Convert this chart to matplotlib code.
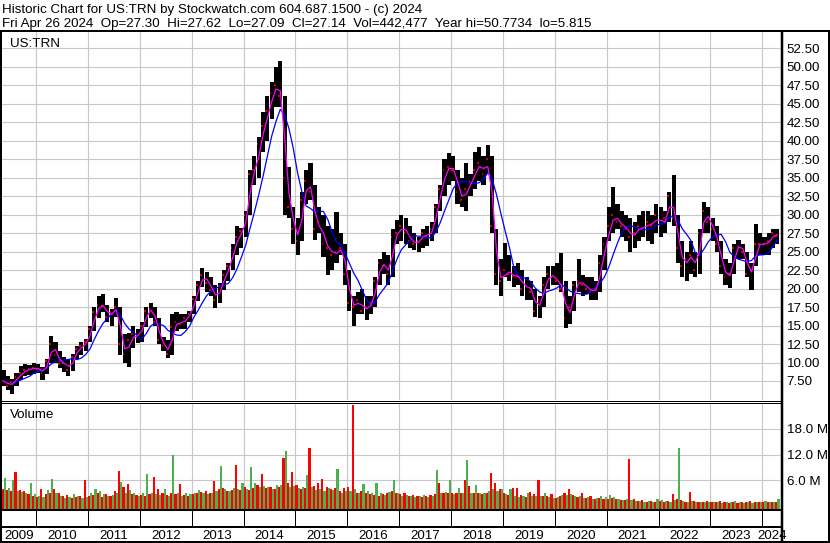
import numpy as np
import pandas as pd
import matplotlib
matplotlib.use("Agg")
import matplotlib.pyplot as plt

plt.rcParams["font.family"] = ["Liberation Sans", "DejaVu Sans"]

W, H = 830, 543          # output size in pixels
FS = 9.6                 # ~13 px Arial-like text

# monthly bars, May 2009 .. Apr 2024
months = pd.period_range("2009-05", "2024-04", freq="M")

high = [
    9.0, 8.2, 7.8, 8.6, 9.5, 9.8, 9.6, 9.9,                                  # 2009
    9.8, 9.4, 10.5, 13.6, 12.8, 11.5, 10.8, 10.5, 11.2, 12.2, 12.8, 13.2,      # 2010
    15.0, 17.5, 19.0, 19.2, 17.8, 17.2, 18.7, 17.5, 13.8, 14.0, 15.0, 14.6,    # 2011
    15.5, 17.5, 18.0, 17.5, 16.0, 13.5, 13.0, 16.5, 16.8, 16.5, 16.5, 17.0,    # 2012
    19.0, 21.0, 22.8, 22.2, 21.5, 20.5, 20.8, 22.5, 23.5, 26.0, 28.4, 28.2,    # 2013
    30.5, 36.0, 38.0, 40.5, 43.9, 46.0, 48.0, 50.0, 50.8, 46.0, 36.5, 31.0,    # 2014
    29.5, 33.0, 36.0, 37.0, 34.0, 31.0, 30.0, 28.5, 28.0, 30.4, 27.5, 26.0,    # 2015
    22.5, 19.0, 19.5, 20.0, 19.0, 19.0, 21.5, 24.0, 25.0, 24.5, 28.0, 29.3,    # 2016
    29.9, 29.5, 28.5, 27.5, 27.0, 28.0, 28.5, 29.0, 31.5, 34.0, 37.5, 38.3,    # 2017
    38.0, 36.0, 35.0, 37.0, 35.5, 38.5, 39.2, 38.0, 39.4, 38.0, 28.0, 24.0,    # 2018
    26.2, 24.5, 23.0, 23.5, 22.5, 21.5, 21.0, 20.0, 19.0, 21.5, 23.0, 23.0,    # 2019
    23.5, 24.8, 21.0, 19.0, 21.0, 24.0, 21.8, 21.5, 21.5, 21.0, 24.5, 27.0,    # 2020
    31.0, 33.8, 31.5, 30.5, 30.0, 29.5, 29.0, 30.0, 30.5, 30.5, 30.0, 31.5,    # 2021
    31.0, 30.5, 33.0, 35.4, 30.0, 26.5, 25.0, 26.5, 25.0, 28.0, 31.7, 31.0,    # 2022
    29.5, 28.5, 26.5, 24.0, 23.5, 26.0, 26.6, 26.0, 25.0, 23.5, 28.8, 27.5,    # 2023
    27.0, 27.5, 28.0, 28.0,                                                  # 2024
]
low = [
    6.8, 6.3, 5.8, 6.8, 7.6, 8.2, 8.3, 8.5,
    8.6, 7.7, 8.5, 10.0, 10.0, 9.2, 8.7, 8.2, 8.9, 10.5, 11.0, 11.5,
    12.8, 14.2, 16.0, 16.8, 15.5, 15.0, 16.2, 11.0, 10.0, 9.4, 12.0, 12.6,
    12.8, 14.8, 16.0, 15.0, 12.5, 11.5, 10.6, 11.0, 14.2, 14.5, 14.5, 15.5,
    16.6, 18.3, 20.2, 19.5, 19.0, 17.4, 18.0, 19.8, 21.0, 22.5, 24.5, 25.5,
    27.0, 30.0, 34.0, 35.0, 38.5, 40.0, 43.0, 44.5, 44.5, 30.0, 29.5, 26.0,
    24.5, 26.5, 31.5, 32.0, 26.6, 27.5, 24.3, 21.9, 22.5, 23.5, 24.5, 20.5,
    17.0, 14.9, 16.5, 16.5, 15.8, 16.5, 17.5, 20.5, 22.0, 20.5, 21.5, 26.0,
    26.5, 26.0, 25.5, 25.2, 25.0, 25.5, 25.8, 26.5, 27.5, 30.5, 32.5, 34.0,
    34.5, 31.5, 31.0, 30.5, 32.5, 33.5, 34.5, 34.0, 35.5, 27.5, 20.5, 19.0,
    21.5, 21.0, 20.2, 20.5, 19.0, 18.5, 18.5, 16.2, 16.0, 17.5, 20.0, 20.5,
    20.5, 19.5, 14.7, 15.2, 17.0, 19.5, 19.0, 19.2, 18.5, 18.5, 19.5, 22.5,
    26.5, 27.5, 28.0, 27.0, 26.5, 25.0, 25.5, 26.5, 27.0, 26.5, 26.0, 27.5,
    27.0, 27.5, 29.0, 28.5, 23.5, 21.5, 21.0, 22.0, 21.5, 22.0, 27.5, 27.5,
    26.5, 25.0, 22.0, 20.5, 20.1, 22.0, 24.0, 24.0, 21.5, 19.8, 23.0, 24.5,
    24.5, 24.5, 25.5, 26.0,
]
close = [
    7.5, 6.8, 7.3, 8.0, 8.6, 9.0, 9.1, 9.3,
    9.1, 8.6, 10.2, 12.5, 11.0, 9.8, 10.0, 9.0, 10.8, 11.8, 12.2, 12.8,
    14.5, 16.8, 17.8, 17.6, 16.2, 16.8, 17.5, 12.5, 11.2, 13.0, 13.8, 13.5,
    15.0, 17.0, 17.2, 15.5, 13.0, 12.3, 11.2, 14.8, 15.5, 15.2, 16.0, 16.6,
    18.6, 20.5, 21.8, 20.8, 19.8, 18.5, 20.3, 21.8, 23.0, 25.5, 27.0, 27.8,
    30.0, 35.5, 36.0, 39.5, 42.0, 44.0, 46.5, 47.5, 46.0, 35.0, 31.0, 28.0,
    26.5, 32.0, 34.5, 33.0, 28.0, 29.0, 26.0, 25.5, 24.5, 25.0, 25.5, 22.0,
    18.0, 17.5, 18.5, 17.0, 17.5, 18.0, 21.0, 23.5, 23.0, 22.0, 27.0, 27.5,
    28.5, 27.5, 26.5, 26.0, 26.5, 27.5, 27.0, 28.0, 31.0, 33.5, 36.0, 36.5,
    36.0, 33.0, 32.0, 33.5, 34.5, 36.0, 37.0, 35.5, 37.5, 28.5, 22.0, 21.0,
    22.5, 22.0, 21.5, 21.8, 20.0, 20.5, 19.5, 17.0, 18.5, 20.5, 22.0, 21.5,
    21.0, 20.0, 16.0, 17.5, 20.5, 21.0, 20.5, 20.0, 19.5, 20.0, 23.5, 26.0,
    28.5, 30.0, 29.0, 28.5, 28.0, 27.0, 27.5, 28.5, 28.0, 29.0, 28.5, 30.0,
    28.5, 29.5, 32.5, 29.5, 25.5, 23.0, 24.0, 24.5, 22.5, 27.5, 30.5, 29.0,
    28.0, 26.0, 23.0, 21.5, 22.0, 25.5, 25.8, 25.0, 22.0, 22.5, 26.0, 26.0,
    26.0, 26.5, 27.5, 27.14,
]

# biggest down-day / up-day volume in each month, millions of shares
vol_down = [
    4.0, 3.8, 3.5, 7.9, 3.8, 3.5, 2.8, 2.5,
    2.2, 4.0, 2.8, 3.2, 3.9, 3.0, 2.4, 2.6, 2.0, 2.2, 2.5, 6.1,
    2.4, 2.6, 3.0, 2.2, 2.8, 2.5, 3.5, 8.1, 4.5, 5.2, 2.8, 2.6,
    2.6, 2.4, 2.8, 6.8, 4.0, 3.2, 2.6, 3.0, 2.8, 5.2, 2.6, 2.4,
    2.8, 3.0, 3.4, 3.6, 3.0, 5.8, 4.0, 4.2, 3.5, 3.8, 9.5, 3.8,
    4.5, 3.8, 4.2, 5.0, 7.6, 4.2, 4.5, 4.0, 4.5, 11.2, 5.5, 7.9,
    5.0, 4.0, 4.2, 13.5, 4.8, 5.4, 6.4, 4.5, 4.0, 4.2, 3.5, 4.2,
    4.5, 23.5, 3.2, 3.5, 3.0, 2.8, 2.6, 2.5, 2.8, 3.0, 3.5, 3.2,
    2.8, 3.0, 2.5, 2.6, 2.4, 2.2, 2.4, 2.6, 2.8, 5.3, 3.2, 3.0,
    3.0, 3.2, 3.0, 6.0, 4.6, 3.0, 3.2, 2.8, 3.0, 7.8, 5.3, 4.0,
    3.0, 2.6, 4.3, 4.3, 2.6, 2.2, 3.4, 2.8, 6.1, 2.5, 2.4, 2.8,
    2.0, 2.4, 3.0, 3.9, 2.6, 2.2, 3.0, 2.0, 2.4, 1.8, 2.0, 1.8,
    1.8, 2.0, 1.6, 1.5, 1.4, 10.9, 1.6, 1.2, 1.4, 1.0, 1.2, 1.1,
    1.2, 1.0, 1.3, 2.8, 1.6, 1.4, 1.1, 3.4, 1.2, 1.0, 1.1, 1.3,
    1.0, 0.9, 1.3, 1.0, 0.8, 1.0, 0.8, 0.9, 1.0, 1.2, 1.0, 0.9,
    1.0, 0.9, 1.1, 1.0,
]
vol_up = [
    6.6, 4.2, 6.1, 3.6, 3.4, 3.0, 5.4, 2.8,
    2.5, 2.2, 3.8, 6.3, 3.0, 2.5, 2.0, 2.2, 2.8, 2.5, 2.0, 2.2,
    3.2, 3.9, 3.5, 2.8, 2.4, 2.6, 3.0, 5.6, 3.0, 3.8, 3.2, 2.4,
    3.0, 7.6, 3.0, 2.8, 2.6, 4.0, 2.4, 12.0, 3.0, 2.5, 3.2, 2.8,
    3.2, 3.8, 3.0, 2.8, 3.2, 3.5, 9.4, 4.0, 3.6, 4.2, 4.0, 5.4,
    4.0, 9.1, 5.5, 4.5, 4.8, 4.5, 4.0, 5.0, 5.0, 12.8, 4.5, 4.8,
    4.2, 4.5, 7.2, 4.5, 3.8, 4.0, 3.6, 4.2, 3.8, 8.6, 3.2, 3.6,
    3.5, 4.0, 3.0, 5.2, 3.5, 3.2, 5.4, 3.0, 2.6, 3.4, 6.1, 3.0,
    2.5, 2.6, 2.4, 2.2, 2.3, 2.6, 2.2, 2.4, 8.4, 3.0, 3.4, 6.1,
    2.8, 4.3, 3.2, 10.7, 3.2, 5.0, 3.0, 3.0, 3.5, 4.0, 3.6, 3.9,
    2.8, 4.0, 2.4, 2.2, 2.4, 3.0, 2.4, 2.5, 2.4, 3.0, 2.2, 2.0,
    2.2, 2.6, 2.6, 2.8, 2.4, 2.5, 2.0, 2.2, 1.8, 2.0, 2.4, 2.2,
    2.6, 2.2, 1.8, 1.4, 1.6, 1.5, 1.2, 1.3, 1.1, 1.2, 1.0, 1.7,
    1.4, 1.2, 1.1, 1.4, 13.5, 1.2, 1.0, 1.2, 0.9, 1.1, 0.9, 1.0,
    0.9, 1.0, 0.8, 1.1, 1.0, 1.2, 0.9, 0.8, 0.9, 0.8, 1.1, 1.0,
    1.2, 1.0, 0.9, 1.7,
]

price_ticks = np.arange(7.5, 52.51, 2.5)
vol_ticks = [6, 12, 18]
year_labels = [str(y) for y in range(2009, 2025)]

header1 = "Historic Chart for US:TRN by Stockwatch.com 604.687.1500 - (c) 2024"
header2 = ("Fri Apr 26 2024  Op=27.30  Hi=27.62  Lo=27.09  Cl=27.14  "
           "Vol=442,477  Year hi=50.7734  lo=5.815")

# ---------------------------------------------------------------------------
x = np.asarray(months.year + (months.month - 0.5) / 12, dtype=float)
mw = 1 / 12
ma_fast = pd.Series(close).rolling(2, min_periods=1).mean()
ma_slow = pd.Series(close).rolling(6, min_periods=1).mean()

X0, X1 = 2009.3446, 2024.3605   # pixel 2 .. 781
GRID = "#c8c8c8"
GREEN = "#4caf50"


def rect(x0, y0, x1, y1):
    return [x0 / W, 1 - y1 / H, (x1 - x0) / W, (y1 - y0) / H]


fig = plt.figure(figsize=(W / 100, H / 100), dpi=100)
ax_p = fig.add_axes(rect(2, 31, 781, 400))
ax_v = fig.add_axes(rect(2, 402.5, 781, 510))

for ax in (ax_p, ax_v):
    ax.set_xlim(X0, X1)
    ax.set_xticks(range(2010, 2025))
    ax.tick_params(axis="x", length=0, labelbottom=False)
    ax.yaxis.tick_right()
    ax.tick_params(axis="y", length=0, pad=4, labelsize=FS)
    ax.grid(True, color=GRID, lw=0.8)
    ax.set_axisbelow(True)
    for s in ax.spines.values():
        s.set_visible(False)

# price panel
ax_p.set_ylim(4.93, 54.84)
ax_p.set_yticks(price_ticks)
ax_p.set_yticklabels([f"{v:.2f}" for v in price_ticks])
ax_p.bar(x, np.array(high) - np.array(low), bottom=low, width=mw * 0.95,
         color="black", linewidth=0, zorder=2)
ax_p.hlines(close, x - mw * 0.45, x - mw * 0.05, color="red", lw=1.2, zorder=3)
ax_p.plot(x, ma_slow, color="#0000ff", lw=0.9, zorder=4)
ax_p.plot(x, ma_fast, color="#ff00ff", lw=0.9, zorder=5)
ax_p.text(8 / 779, 1 - (46.7 - 31) / 369, "US:TRN", transform=ax_p.transAxes,
          fontsize=FS, va="baseline", ha="left")

# volume panel
vlo = -0.854
ax_v.set_ylim(vlo, 24.07)
ax_v.set_yticks(vol_ticks)
ax_v.set_yticklabels([f"{v:.1f} M" for v in vol_ticks])
ax_v.bar(x - mw / 4, np.array(vol_down) - vlo, bottom=vlo, width=mw / 2,
         color="red", linewidth=0, zorder=2)
ax_v.bar(x + mw / 4, np.array(vol_up) - vlo, bottom=vlo, width=mw / 2,
         color=GREEN, linewidth=0, zorder=2)
ax_v.text(8 / 779, 1 - (417.7 - 402.5) / 107.5, "Volume", transform=ax_v.transAxes,
          fontsize=FS, va="baseline", ha="left")

# frame, date strip and header drawn in pixel space
ov = fig.add_axes([0, 0, 1, 1], zorder=10)
ov.set_xlim(0, W)
ov.set_ylim(H, 0)
ov.axis("off")
px = 0.72
k = dict(color="black", solid_capstyle="butt")
ov.plot([0, W], [31, 31], lw=2 * px, **k)
ov.plot([1, 1], [31, H], lw=2 * px, **k)
ov.plot([829, 829], [31, H], lw=2 * px, **k)
ov.plot([781.5, 781.5], [31, H], lw=2.5 * px, **k)
ov.plot([0, 781], [400.5, 400.5], lw=1 * px, **k)
ov.plot([0, 781], [402.5, 402.5], lw=1 * px, **k)
ov.plot([0, 781], [510, 510], lw=2 * px, **k)
ov.plot([0, 781], [527, 527], lw=2 * px, **k)
ov.plot([0, W], [542, 542], lw=2 * px, **k)

bounds = [2 + (b - X0) / (X1 - X0) * 779 for b in range(2010, 2025)]
for b in bounds:
    ov.plot([b, b], [510, 527], lw=1 * px, **k)
edges = [2] + bounds + [781]
for lab, a, b in zip(year_labels, edges[:-1], edges[1:]):
    ov.text((a + b) / 2, 539, lab, fontsize=FS, ha="center", va="baseline")

ov.text(2, 13.3, header1, fontsize=FS, ha="left", va="baseline")
ov.text(2, 26.7, header2, fontsize=FS, ha="left", va="baseline")

fig.savefig("out.png", dpi=100)
